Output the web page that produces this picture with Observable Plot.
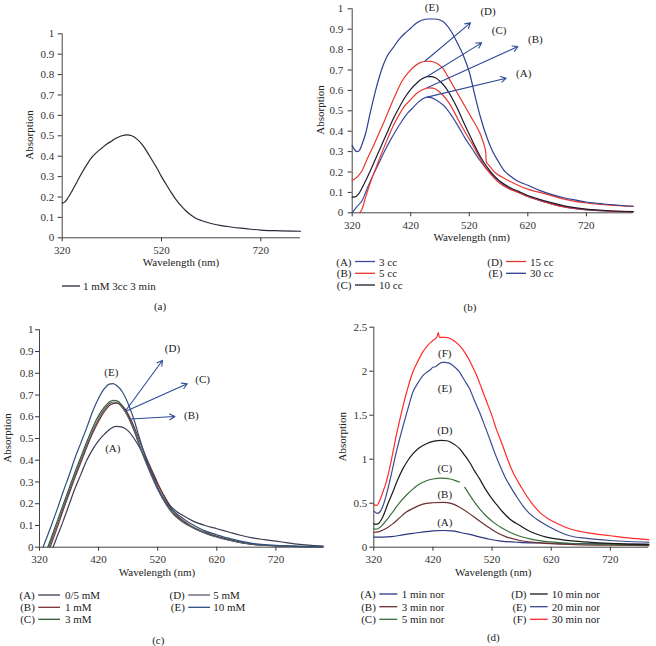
<!DOCTYPE html>
<html><head><meta charset="utf-8">
<script src="https://cdn.jsdelivr.net/npm/d3@7"></script>
<script src="https://cdn.jsdelivr.net/npm/@observablehq/plot@0.6"></script>
<style>
body{margin:0;background:#fff;}
#root{position:relative;width:656px;height:646px;overflow:hidden;font-family:"Liberation Serif",serif;background:#fff;}
.panel{position:absolute;}
.panel svg text, #overlay text{font-family:"Liberation Serif","Times New Roman",serif !important;}
#overlay{position:absolute;left:0;top:0;pointer-events:none;}
</style></head><body><div id="root"></div>
<script>
// ---------- DATA ----------
const xTicks = [320, 420, 520, 620, 720];
const xTicksA = [320, 520, 720];
const yTicks1 = [0, 0.1, 0.2, 0.3, 0.4, 0.5, 0.6, 0.7, 0.8, 0.9, 1];
const yTicks25 = [0, 0.5, 1, 1.5, 2, 2.5];

// Panel (a)
const aCurve = [[320,0.17],[325,0.175],[330,0.19],[340,0.23],[350,0.275],[360,0.32],[370,0.36],[380,0.395],[390,0.42],[400,0.44],[410,0.46],[420,0.475],[430,0.49],[440,0.50],[450,0.505],[460,0.50],[470,0.485],[480,0.46],[490,0.425],[500,0.385],[510,0.345],[520,0.30],[530,0.26],[540,0.22],[550,0.185],[560,0.155],[570,0.13],[580,0.11],[590,0.095],[600,0.085],[620,0.07],[640,0.06],[660,0.053],[680,0.047],[700,0.042],[720,0.038],[750,0.035],[800,0.032]];
const aLegend = ["1 mM 3cc 3 min"];

// Panel (b)
const bE = [[320,0.33],[324,0.31],[328,0.30],[332,0.305],[336,0.33],[343,0.39],[350,0.48],[360,0.60],[370,0.70],[380,0.77],[390,0.81],[400,0.85],[410,0.88],[420,0.905],[430,0.93],[440,0.945],[450,0.95],[460,0.95],[470,0.945],[480,0.925],[490,0.885],[500,0.83],[510,0.77],[520,0.69],[530,0.57],[540,0.46],[550,0.37],[560,0.30],[570,0.25],[580,0.205],[590,0.18],[600,0.16],[620,0.135],[640,0.11],[660,0.09],[680,0.075],[700,0.063],[720,0.053],[750,0.043],[800,0.032]];
const bD = [[320,0.158],[330,0.18],[337,0.207],[345,0.26],[355,0.32],[365,0.385],[375,0.45],[385,0.52],[395,0.585],[405,0.645],[415,0.685],[425,0.715],[435,0.735],[445,0.743],[455,0.742],[465,0.732],[475,0.708],[485,0.66],[495,0.61],[505,0.56],[515,0.51],[525,0.46],[535,0.41],[541,0.37],[546,0.325],[548,0.30],[549,0.25],[553,0.235],[565,0.195],[576,0.175],[590,0.153],[604,0.134],[620,0.116],[650,0.093],[680,0.068],[720,0.048],[760,0.038],[800,0.032]];
const bC = [[320,0.077],[325,0.078],[331,0.093],[340,0.14],[350,0.20],[360,0.265],[370,0.33],[380,0.395],[390,0.46],[400,0.515],[410,0.565],[420,0.605],[430,0.635],[440,0.658],[448,0.668],[455,0.668],[462,0.662],[470,0.645],[480,0.612],[490,0.565],[500,0.51],[510,0.445],[520,0.385],[530,0.325],[540,0.27],[550,0.225],[560,0.19],[570,0.16],[580,0.14],[590,0.123],[604,0.105],[620,0.085],[640,0.066],[660,0.05],[680,0.035],[700,0.025],[720,0.018],[760,0.01],[800,0.006]];
const bB = [[333,0],[337,0.02],[343,0.077],[350,0.14],[360,0.215],[370,0.29],[380,0.36],[390,0.425],[400,0.48],[410,0.525],[420,0.555],[430,0.585],[440,0.603],[450,0.612],[458,0.611],[466,0.6],[474,0.58],[485,0.54],[496,0.485],[505,0.435],[515,0.385],[525,0.338],[535,0.285],[547,0.224],[558,0.185],[570,0.15],[585,0.122],[604,0.1],[620,0.08],[650,0.052],[680,0.03],[720,0.015],[760,0.008],[800,0.005]];
const bA = [[320,0],[328,0.03],[337,0.06],[345,0.115],[355,0.18],[365,0.24],[375,0.3],[385,0.355],[394,0.40],[405,0.45],[415,0.49],[422,0.51],[432,0.54],[440,0.558],[448,0.567],[455,0.565],[462,0.555],[470,0.54],[479,0.518],[490,0.475],[502,0.42],[513,0.365],[525,0.314],[536,0.265],[547,0.224],[558,0.19],[570,0.158],[585,0.125],[604,0.1],[620,0.08],[650,0.052],[680,0.03],[720,0.014],[760,0.008],[800,0.005]];
const bArrows = [[444,0.743,522,0.931],[448,0.668,541,0.833],[448,0.613,603,0.815],[448,0.567,583,0.66]];
const bLabels = [["(E)",456,1.005],["(D)",552,0.987],["(C)",571,0.894],["(B)",633,0.848],["(A)",613,0.681]];
const bLegend = [["(A)","3 cc"],["(B)","5 cc"],["(C)","10 cc"],["(D)","15 cc"],["(E)","30 cc"]];

// Panel (c)
const cA = [[343,0],[350,0.05],[360,0.12],[370,0.195],[380,0.27],[390,0.335],[400,0.40],[410,0.45],[420,0.49],[430,0.52],[440,0.545],[450,0.556],[460,0.552],[470,0.535],[480,0.50],[490,0.455],[500,0.40],[510,0.345],[520,0.29],[530,0.24],[540,0.195],[550,0.168],[560,0.15],[580,0.12],[600,0.10],[620,0.085],[640,0.07],[660,0.055],[680,0.043],[700,0.035],[720,0.028],[740,0.02],[760,0.013],[780,0.008],[800,0.005]];
const cB = [[338,0],[350,0.09],[360,0.17],[370,0.245],[380,0.32],[390,0.39],[400,0.46],[410,0.525],[420,0.58],[430,0.625],[440,0.655],[448,0.663],[456,0.66],[465,0.635],[475,0.585],[485,0.52],[495,0.45],[505,0.385],[515,0.325],[525,0.265],[535,0.215],[545,0.17],[555,0.14],[565,0.118],[580,0.092],[600,0.068],[620,0.05],[640,0.035],[660,0.022],[680,0.014],[700,0.009],[720,0.006],[760,0.003],[800,0.002]];
const cC = [[334,0],[350,0.12],[360,0.195],[370,0.27],[380,0.345],[390,0.415],[400,0.485],[410,0.55],[420,0.605],[430,0.645],[438,0.668],[445,0.676],[452,0.672],[460,0.65],[470,0.605],[480,0.54],[490,0.465],[500,0.395],[510,0.33],[520,0.27],[530,0.22],[540,0.178],[550,0.146],[560,0.122],[580,0.09],[600,0.066],[620,0.048],[640,0.034],[660,0.022],[680,0.014],[700,0.01],[720,0.007],[760,0.004],[800,0.002]];
const cD = [[336,0],[350,0.105],[360,0.18],[370,0.255],[380,0.33],[390,0.40],[400,0.47],[410,0.535],[420,0.59],[430,0.635],[438,0.66],[445,0.668],[452,0.663],[460,0.642],[470,0.598],[480,0.535],[490,0.46],[500,0.39],[510,0.325],[520,0.265],[530,0.215],[540,0.173],[550,0.142],[560,0.12],[580,0.088],[600,0.064],[620,0.046],[640,0.032],[660,0.021],[680,0.013],[700,0.009],[720,0.006],[760,0.003],[800,0.002]];
const cE = [[326,0],[340,0.10],[350,0.175],[360,0.255],[370,0.33],[380,0.41],[390,0.48],[400,0.55],[410,0.625],[420,0.685],[430,0.73],[438,0.75],[444,0.752],[450,0.745],[460,0.715],[470,0.66],[480,0.585],[490,0.495],[500,0.41],[510,0.34],[520,0.275],[530,0.225],[540,0.185],[550,0.158],[560,0.138],[570,0.118],[587,0.092],[600,0.075],[620,0.057],[644,0.038],[660,0.028],[680,0.018],[700,0.012],[720,0.008],[760,0.004],[800,0.002]];
const cArrows = [[466,0.629,528,0.859],[469,0.629,570,0.752],[474,0.59,549,0.601]];
const cLabels = [["(D)",545,0.913],["(C)",596,0.77],["(B)",577,0.606],["(E)",441.5,0.805],["(A)",444,0.452]];
const cLegend = [["(A)","0/5 mM"],["(B)","1 mM"],["(C)","3 mM"],["(D)","5 mM"],["(E)","10 mM"]];

// Panel (d)
const dF = [[320,0.49],[323,0.475],[326,0.48],[330,0.53],[335,0.62],[341,0.74],[350,1.0],[358,1.27],[364,1.45],[370,1.62],[378,1.82],[386,1.99],[395,2.12],[403,2.22],[412,2.30],[420,2.35],[427,2.395],[429,2.44],[431,2.385],[440,2.385],[448,2.375],[455,2.35],[462,2.31],[470,2.25],[477,2.18],[485,2.08],[494,1.95],[502,1.81],[511,1.65],[520,1.49],[527,1.345],[536,1.19],[544,1.04],[552,0.90],[561,0.777],[570,0.675],[578,0.587],[586,0.51],[595,0.436],[605,0.37],[617,0.315],[630,0.27],[651,0.21],[680,0.165],[720,0.13],[750,0.105],[785,0.085]];
const dE = [[320,0.41],[323,0.395],[326,0.385],[330,0.40],[335,0.46],[341,0.59],[350,0.84],[358,1.08],[364,1.24],[370,1.39],[378,1.58],[386,1.76],[395,1.87],[403,1.95],[410,1.99],[416,2.02],[420,2.045],[424,2.05],[428,2.07],[431,2.085],[436,2.1],[440,2.1],[446,2.095],[451,2.08],[458,2.04],[465,1.99],[473,1.9],[482,1.80],[490,1.67],[499,1.53],[507,1.39],[516,1.23],[524,1.08],[533,0.93],[541,0.81],[550,0.70],[561,0.58],[572,0.47],[583,0.385],[595,0.32],[609,0.26],[623,0.21],[637,0.165],[651,0.13],[680,0.1],[720,0.076],[750,0.065],[785,0.057]];
const dD = [[320,0.265],[323,0.26],[327,0.265],[335,0.34],[343,0.48],[352,0.625],[360,0.76],[369,0.89],[377,0.98],[386,1.06],[397,1.13],[409,1.175],[422,1.205],[434,1.215],[443,1.21],[451,1.19],[458,1.16],[465,1.12],[473,1.05],[482,0.965],[490,0.87],[499,0.776],[507,0.68],[516,0.587],[527,0.49],[538,0.40],[552,0.31],[567,0.246],[581,0.19],[595,0.15],[612,0.115],[628,0.095],[660,0.068],[700,0.05],[740,0.038],[785,0.03]];
const dC = [[320,0.21],[323,0.205],[327,0.21],[335,0.255],[343,0.32],[352,0.40],[363,0.50],[375,0.59],[386,0.66],[398,0.72],[409,0.755],[420,0.775],[434,0.785],[442,0.782],[449,0.775],[457,0.76],[465,0.74],[468,NaN],[474,0.68],[482,0.595],[490,0.515],[499,0.435],[510,0.355],[522,0.285],[536,0.22],[550,0.17],[567,0.125],[584,0.095],[600,0.075],[618,0.06],[650,0.045],[700,0.035],[750,0.03],[785,0.025]];
const dB = [[320,0.17],[325,0.172],[330,0.18],[340,0.21],[352,0.265],[363,0.33],[375,0.40],[389,0.45],[403,0.49],[420,0.505],[437,0.51],[452,0.495],[465,0.455],[480,0.39],[494,0.32],[510,0.245],[527,0.17],[545,0.115],[567,0.076],[590,0.055],[620,0.04],[660,0.03],[720,0.022],[785,0.018]];
const dA = [[320,0.115],[335,0.115],[350,0.12],[369,0.14],[383,0.155],[400,0.17],[420,0.185],[437,0.19],[452,0.185],[465,0.17],[482,0.145],[500,0.115],[516,0.09],[535,0.07],[566,0.055],[600,0.048],[650,0.042],[720,0.038],[785,0.035]];
const dLabels = [["(F)",440,2.2],["(E)",440,1.8],["(D)",440,1.33],["(C)",440,0.89],["(B)",440,0.6],["(A)",440,0.285]];
const dLegend = [["(A)","1 min nor"],["(B)","3 min nor"],["(C)","5 min nor"],["(D)","10 min nor"],["(E)","20 min nor"],["(F)","30 min nor"]];

// ---------- STYLE ----------
const FONT = '"Liberation Serif", "Times New Roman", serif';
const ARROW = "#2d4a96";
const colA = ["#2a2a3a"];
const colB = ["#3b4aa0","#e8372f","#1c1c30","#e8372f","#2f3f8f"];
const colC = ["#3c3c55","#7a2e2e","#2e5e2e","#5a5a6e","#2f4f7f"];
const colD = ["#2c3580","#6e2e2e","#3b6e3b","#1a1a1a","#3d4a8e","#ff2a2a"];

const root = document.getElementById("root");

function panel(cfg) {
  const marks = [
    Plot.ruleX([cfg.xDomain[0]], {stroke: "#444", strokeWidth: 1}),
    Plot.ruleY([0], {stroke: "#444", strokeWidth: 1}),
  ];
  cfg.series.forEach((s, i) => {
    marks.push(Plot.line(s, {x: d => d[0], y: d => d[1], stroke: cfg.colors[i], strokeWidth: 1.2, curve: "monotone-x"}));
  });
  if (cfg.arrows) marks.push(Plot.arrow(cfg.arrows, {x1: d => d[0], y1: d => d[1], x2: d => d[2], y2: d => d[3], stroke: ARROW, strokeWidth: 1.1, headLength: 8}));
  if (cfg.labels) marks.push(Plot.text(cfg.labels, {x: d => d[1], y: d => d[2], text: d => d[0], fontSize: 11, fill: "#222"}));
  const svg = Plot.plot({
    width: cfg.w, height: cfg.h,
    marginLeft: cfg.m[0], marginRight: cfg.m[1], marginTop: cfg.m[2], marginBottom: cfg.m[3],
    x: {domain: cfg.xDomain, ticks: cfg.xTicks, tickSize: 4, tickPadding: 4, label: null},
    y: {domain: cfg.yDomain, ticks: cfg.yTicks, tickSize: 4, tickPadding: cfg.yPad, label: null, tickFormat: d => String(d)},
    style: {fontFamily: FONT, fontSize: "11px", background: "transparent", color: "#333", overflow: "visible"},
    marks
  });
  const div = document.createElement("div");
  div.className = "panel";
  div.style.left = cfg.left + "px";
  div.style.top = cfg.top + "px";
  div.appendChild(svg);
  root.appendChild(div);
}

panel({left: 0, top: 0, w: 320, h: 262, m: [61.7, 20, 33.3, 24.7], xDomain: [320, 800], yDomain: [0, 1], xTicks: xTicksA, yTicks: yTicks1, yPad: 4, series: [aCurve], colors: colA});
panel({left: 320, top: 0, w: 336, h: 236, m: [31.7, 23.3, 8.3, 23.7], xDomain: [320, 800], yDomain: [0, 1], xTicks, yTicks: yTicks1, yPad: 5, series: [bA, bB, bC, bD, bE], colors: colB, arrows: bArrows, labels: bLabels});
panel({left: 0, top: 320, w: 330, h: 246, m: [39, 7.3, 9.3, 19.3], xDomain: [320, 800], yDomain: [0, 1], xTicks, yTicks: yTicks1, yPad: 2, series: [cA, cB, cC, cD, cE], colors: colC, arrows: cArrows, labels: cLabels});
panel({left: 320, top: 320, w: 336, h: 246, m: [53.3, 7.7, 6.7, 19.3], xDomain: [320, 785], yDomain: [0, 2.5], xTicks, yTicks: yTicks25, yPad: 2.5, series: [dA, dB, dC, dD, dE, dF], colors: colD, labels: dLabels});

// ---------- OVERLAY TEXT (axis titles, legends, captions) ----------
const ov = d3.select(root).append("svg").attr("id", "overlay").attr("width", 656).attr("height", 646)
  .style("font-family", FONT).style("font-size", "11px");

function txt(x, y, s, anchor = "middle", rot = false) {
  const t = ov.append("text").attr("x", x).attr("y", y).attr("text-anchor", anchor)
    .attr("dominant-baseline", "central").attr("fill", "#222").text(s);
  if (rot) t.attr("transform", `rotate(-90 ${x} ${y})`);
}
function legend(items, colors, rowsY, cols) {
  items.forEach((it, i) => {
    const c = i < rowsY.length ? cols[0] : cols[1];
    const y = rowsY[i % rowsY.length];
    if (it[0]) txt(c.l1 - 3.5, y, it[0], "end");
    ov.append("line").attr("x1", c.l1).attr("x2", c.l2).attr("y1", y).attr("y2", y)
      .attr("stroke", colors[i]).attr("stroke-width", 1.3);
    txt(c.txt, y, it[1], "start");
  });
}

// (a)
txt(29, 135, "Absorption", "middle", true);
txt(181, 262, "Wavelength (nm)");
legend([[null, aLegend[0]]], colA, [286], [{l1: 62, l2: 80, txt: 83}]);
txt(160, 306, "(a)");

// (b)
txt(320, 110, "Absorption", "middle", true);
txt(471.7, 237, "Wavelength (nm)");
legend(bLegend, colB, [261.5, 273.3, 285], [{l1: 355, l2: 375, txt: 379}, {l1: 506, l2: 526, txt: 530}]);
txt(470, 307, "(b)");

// (c)
txt(7, 438, "Absorption", "middle", true);
txt(157, 571.7, "Wavelength (nm)");
legend(cLegend, colC, [595, 607.3, 619.3], [{l1: 38.3, l2: 60, txt: 65}, {l1: 188.3, l2: 210, txt: 213.3}]);
txt(158.3, 640, "(c)");

// (d)
txt(341.7, 436.7, "Absorption", "middle", true);
txt(493.3, 571.7, "Wavelength (nm)");
legend(dLegend, colD, [594, 606.7, 619.3], [{l1: 379.3, l2: 397.3, txt: 401.7}, {l1: 530, l2: 547.7, txt: 551.7}]);
txt(493.3, 637.3, "(d)");
</script></body></html>
